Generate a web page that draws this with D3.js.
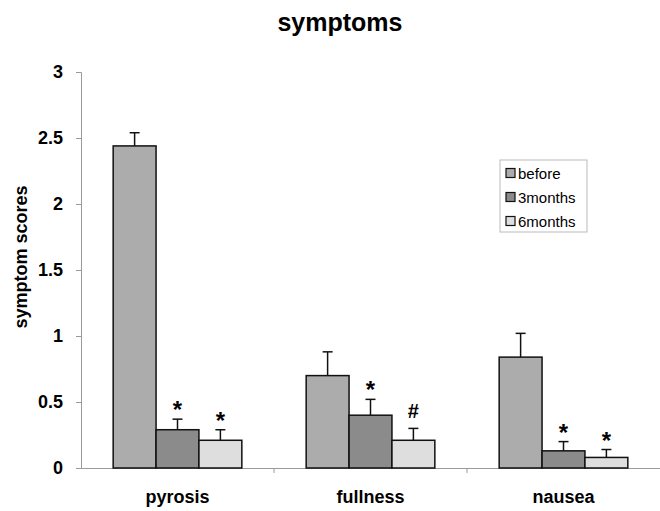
<!DOCTYPE html>
<html>
<head>
<meta charset="utf-8">
<script src="https://cdn.jsdelivr.net/npm/d3@7"></script>
<style>
  body { margin: 0; background: #fff; }
  svg { display: block; font-family: Arial, "Liberation Sans", sans-serif; }
</style>
</head>
<body>
<svg id="chart" width="660" height="511"></svg>
<script>
// data
const categories = ['pyrosis', 'fullness', 'nausea'];
const seriesNames = ['before', '3months', '6months'];
const before = [2.44, 0.70, 0.84];
const months3 = [0.29, 0.40, 0.13];
const months6 = [0.21, 0.21, 0.08];
const errBefore = [0.10, 0.18, 0.18];
const err3 = [0.08, 0.12, 0.07];
const err6 = [0.08, 0.09, 0.06];
// significance marks: [category, series, mark]
const marks = [
  ['pyrosis', '3months', '*'], ['pyrosis', '6months', '*'],
  ['fullness', '3months', '*'], ['fullness', '6months', '#'],
  ['nausea', '3months', '*'], ['nausea', '6months', '*']
];
const yTicks = [0, 0.5, 1, 1.5, 2, 2.5, 3];

const colors = { before: '#acacac', '3months': '#8b8b8b', '6months': '#dedede' };

const rows = [];
categories.forEach((c, i) => {
  rows.push({ cat: c, s: 'before', v: before[i], e: errBefore[i] });
  rows.push({ cat: c, s: '3months', v: months3[i], e: err3[i] });
  rows.push({ cat: c, s: '6months', v: months6[i], e: err6[i] });
});

const svg = d3.select('#chart');
const mLeft = 81, mRight = 660, mTop = 72, mBottom = 468;

const x = d3.scaleBand().domain(categories).range([mLeft, mRight]).paddingInner(0).paddingOuter(0);
const xs = d3.scaleBand().domain(seriesNames).range([0, x.bandwidth()]).paddingInner(0).paddingOuter(0.75);
const y = d3.scaleLinear().domain([0, 3]).range([mBottom, mTop]);

// title
svg.append('text')
  .attr('x', 340).attr('y', 31)
  .attr('text-anchor', 'middle')
  .style('font-size', '25px').style('font-weight', 'bold')
  .text('symptoms');

// y axis
const yAxis = svg.append('g')
  .attr('transform', `translate(${mLeft},0)`)
  .call(d3.axisLeft(y).tickValues(yTicks).tickSize(5).tickPadding(13).tickFormat(d3.format('')));
yAxis.select('.domain').attr('stroke', '#9a9a9a');
yAxis.selectAll('.tick line').attr('stroke', '#9a9a9a');
yAxis.selectAll('.tick text')
  .style('font-size', '18px').style('font-weight', 'bold')
  .attr('fill', '#000');

// x axis
const xAxis = svg.append('g')
  .attr('transform', `translate(0,${mBottom})`)
  .call(d3.axisBottom(x).tickSize(0).tickPadding(22));
xAxis.select('.domain').attr('stroke', '#9a9a9a');
xAxis.selectAll('.tick text')
  .style('font-size', '18px').style('font-weight', 'bold')
  .attr('fill', '#000');
// boundary ticks between categories
xAxis.selectAll('line.sep')
  .data(categories.slice(1))
  .enter().append('line')
  .attr('class', 'sep')
  .attr('x1', d => x(d)).attr('x2', d => x(d))
  .attr('y1', 0).attr('y2', 5)
  .attr('stroke', '#9a9a9a');

// y axis label
svg.append('text')
  .attr('transform', 'translate(27,257) rotate(-90)')
  .attr('text-anchor', 'middle')
  .style('font-size', '18px').style('font-weight', 'bold')
  .text('symptom scores');

// bars
const g = svg.append('g');
g.selectAll('rect.bar')
  .data(rows)
  .enter().append('rect')
  .attr('class', 'bar')
  .attr('x', d => x(d.cat) + xs(d.s))
  .attr('y', d => y(d.v))
  .attr('width', xs.bandwidth())
  .attr('height', d => y(0) - y(d.v))
  .attr('fill', d => colors[d.s])
  .attr('stroke', '#111')
  .attr('stroke-width', 1.5);

// error bars (upper only)
const eb = g.selectAll('g.err')
  .data(rows)
  .enter().append('g')
  .attr('class', 'err')
  .attr('transform', d => `translate(${x(d.cat) + xs(d.s) + xs.bandwidth() / 2},0)`);
eb.append('line')
  .attr('x1', 0).attr('x2', 0)
  .attr('y1', d => y(d.v)).attr('y2', d => y(d.v + d.e))
  .attr('stroke', '#111').attr('stroke-width', 1.5);
eb.append('line')
  .attr('x1', -5).attr('x2', 5)
  .attr('y1', d => y(d.v + d.e)).attr('y2', d => y(d.v + d.e))
  .attr('stroke', '#111').attr('stroke-width', 1.5);

// significance marks
g.selectAll('text.mark')
  .data(marks)
  .enter().append('text')
  .attr('class', 'mark')
  .attr('text-anchor', 'middle')
  .attr('x', d => x(d[0]) + xs(d[1]) + xs.bandwidth() / 2)
  .attr('y', d => {
    const r = rows.find(o => o.cat === d[0] && o.s === d[1]);
    return d[2] === '#' ? y(r.v + r.e) - 10 : y(r.v + r.e) - 1;
  })
  .style('font-size', d => d[2] === '#' ? '20px' : '24px')
  .style('font-weight', 'bold')
  .text(d => d[2]);

// legend
const lg = svg.append('g').attr('transform', 'translate(500,160)');
lg.append('rect')
  .attr('width', 87).attr('height', 72)
  .attr('fill', '#fff').attr('stroke', '#bbb');
const item = lg.selectAll('g.item')
  .data(seriesNames)
  .enter().append('g')
  .attr('class', 'item')
  .attr('transform', (d, i) => `translate(6,${13 + i * 24})`);
item.append('rect')
  .attr('x', 0).attr('y', -4.5)
  .attr('width', 9).attr('height', 9)
  .attr('fill', d => colors[d])
  .attr('stroke', '#111').attr('stroke-width', 1.2);
item.append('text')
  .attr('x', 12).attr('y', 5.5)
  .style('font-size', '15px')
  .text(d => d);
</script>
</body>
</html>
